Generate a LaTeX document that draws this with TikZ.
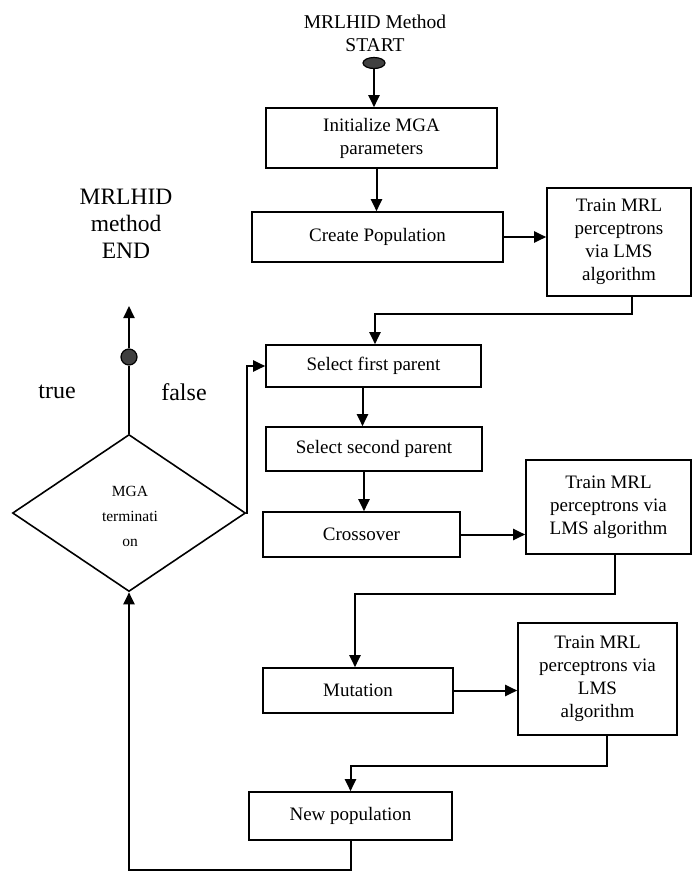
\documentclass[tikz,border=0pt]{standalone}
\usepackage{fontspec}
\setmainfont{Liberation Serif}
\usetikzlibrary{arrows.meta,shapes.geometric,calc}
\tikzset{
  box/.style={draw, line width=1.6pt, rectangle, inner sep=0pt, align=center, font=\fontsize{19}{23}\selectfont},
  arr/.style={line width=2pt, -{Triangle[length=12pt,width=11pt]}},
  ln/.style={line width=1.8pt},
  lbl/.style={align=center, inner sep=0pt}
}
\begin{document}
\begin{tikzpicture}[x=1pt,y=-1pt]
\useasboundingbox (0,0) rectangle (692,871);
% start
\node[lbl, font=\fontsize{19.5}{23}\selectfont] (starttxt) at (375,33) {MRLHID Method\\START};
\node[ellipse, draw=black, fill=black!75, line width=1.2pt, minimum width=22pt, minimum height=11pt, inner sep=0pt] (startov) at (374,63) {};
% boxes
\node[box, minimum width=231pt, minimum height=60pt] (init) at (381.5,138) {Initialize MGA\\parameters};
\node[box, minimum width=251pt, minimum height=50pt] (create) at (377.5,237) {Create Population};
\node[box, minimum width=144pt, minimum height=108pt] (train1) at (619,242) {Train MRL\\perceptrons\\via LMS\\algorithm};
\node[box, minimum width=215pt, minimum height=42pt] (sel1) at (373.5,366) {Select first parent};
\node[box, minimum width=216pt, minimum height=44pt] (sel2) at (374,449) {Select second parent};
\node[box, minimum width=197pt, minimum height=45pt] (cross) at (361.5,534.5) {Crossover};
\node[box, minimum width=165pt, minimum height=94pt] (train2) at (608.5,507) {Train MRL\\perceptrons via\\LMS algorithm};
\node[box, minimum width=190pt, minimum height=45pt] (mut) at (358,690.5) {Mutation};
\node[box, minimum width=159pt, minimum height=112pt] (train3) at (597.5,679) {Train MRL\\perceptrons via\\LMS\\algorithm};
\node[box, minimum width=203pt, minimum height=48pt] (newpop) at (350.5,816) {New population};
% decision
\node[diamond, draw, line width=1.6pt, minimum width=233pt, minimum height=157pt, inner sep=0pt] (dia) at (129,513) {};
\node[lbl, font=\fontsize{15.5}{25}\selectfont] (diatxt) at (130,516) {MGA\\terminati\\on};
% end
\node[lbl, font=\fontsize{23.5}{27}\selectfont] (endtxt) at (126,224) {MRLHID\\method\\END};
\coordinate (endtip) at (129,306);
\node[circle, draw=black, fill=black!75, line width=1.2pt, minimum size=16pt, inner sep=0pt] (endc) at (129,357) {};
\node[lbl, font=\fontsize{24}{28}\selectfont] (truel) at (57,392) {true};
\node[lbl, font=\fontsize{24}{28}\selectfont] (falsel) at (184,392) {false};
% connectors
\draw[arr] (startov.south) -- (startov.south |- init.north);
\draw[arr] ([xshift=-5pt]init.south) -- ([xshift=-5pt]init.south |- create.north);
\draw[arr] (create.east) -- (create.east -| train1.west);
\draw[arr] ([xshift=13pt]train1.south) -- ++(0,17) -| ([xshift=1.5pt]sel1.north);
\draw[arr] ([xshift=-11pt]sel1.south) -- ([xshift=-11pt]sel1.south |- sel2.north);
\draw[arr] ([xshift=-10pt]sel2.south) -- ([xshift=-10pt]sel2.south |- cross.north);
\draw[arr] (cross.east) -- (cross.east -| train2.west);
\draw[arr] ([xshift=6pt]train2.south) -- ++(0,39) -| ([xshift=-3pt]mut.north);
\draw[arr] (mut.east) -- (mut.east -| train3.west);
\draw[arr] ([xshift=9.5pt]train3.south) -- ++(0,30) -| (newpop.north);
\draw[arr] (newpop.south) -- ++(0,29) -| (dia.south);
\draw[ln] (dia.north) -- (endc.south);
\draw[arr] (endc.north) -- (endtip);
\draw[arr] (dia.east) -- ++(1,0) |- (sel1.west);
\end{tikzpicture}
\end{document}
